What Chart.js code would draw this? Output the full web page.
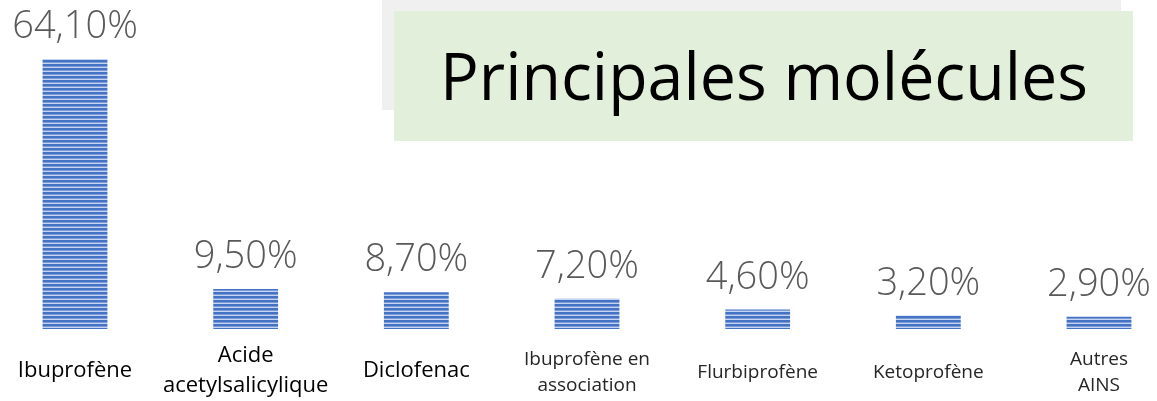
<!DOCTYPE html>
<html>
<head>
<meta charset="utf-8">
<script src="https://cdn.jsdelivr.net/npm/chart.js@4.4.1/dist/chart.umd.min.js"></script>
<style>
  html, body { margin: 0; padding: 0; background: #fff; }
  #wrap { width: 1157px; height: 401px; position: relative; }
</style>
</head>
<body>
<div id="wrap"><canvas id="chart"></canvas></div>
<script>
// Data
const categories = [
    'Ibuprofène',
    ['Acide', 'acetylsalicylique'],
    'Diclofenac',
    ['Ibuprofène en', 'association'],
    'Flurbiprofène',
    'Ketoprofène',
    ['Autres', 'AINS']
];
const shares = [64.1, 9.5, 8.7, 7.2, 4.6, 3.2, 2.9];
const valueLabels = ['64,10%', '9,50%', '8,70%', '7,20%', '4,60%', '3,20%', '2,90%'];
const titleText = 'Principales molécules';

// striped fill for the bars
const makeStripes = () => {
    const c = document.createElement('canvas');
    c.width = 4;
    c.height = 4;
    const g = c.getContext('2d');
    g.fillStyle = '#4472C4';
    g.fillRect(0, 0, 4, 2);
    g.fillStyle = '#7C9AD6';
    g.fillRect(0, 2, 4, 1);
    g.fillStyle = '#C5D4F0';
    g.fillRect(0, 3, 4, 1);
    return g.createPattern(c, 'repeat');
};

// Title box behind the chart
const titleBoxPlugin = {
    id: 'titleBox',
    beforeDraw: (chart) => {
        const ctx = chart.ctx;
        ctx.save();
        ctx.fillStyle = '#F0F0F0';
        ctx.fillRect(382, 0, 739, 110);
        ctx.fillStyle = '#E2EFDA';
        ctx.fillRect(394, 11, 739, 130);
        ctx.fillStyle = '#000';
        ctx.font = '400 66px "Open Sans", "Noto Sans", sans-serif';
        ctx.textAlign = 'center';
        ctx.textBaseline = 'alphabetic';
        ctx.fillText(titleText, 764, 100, 648);
        ctx.restore();
    }
};

// value labels above each bar
const valueLabelPlugin = {
    id: 'valueLabels',
    afterDatasetsDraw: (chart) => {
        const ctx = chart.ctx;
        const meta = chart.getDatasetMeta(0);
        ctx.save();
        ctx.fillStyle = '#595959';
        ctx.font = '300 38px "Open Sans", "Noto Sans", sans-serif';
        ctx.textAlign = 'center';
        ctx.textBaseline = 'alphabetic';
        meta.data.forEach((bar, i) => {
            ctx.fillText(valueLabels[i], bar.x, bar.y - 21);
        });
        ctx.restore();
    }
};

const ctx = document.getElementById('chart').getContext('2d');

new Chart(ctx, {
    type: 'bar',
    data: {
        labels: categories,
        datasets: [{
            data: shares,
            backgroundColor: makeStripes(),
            borderWidth: 0,
            categoryPercentage: 1,
            barPercentage: 0.38,
            clip: false
        }]
    },
    options: {
        responsive: true,
        maintainAspectRatio: false,
        animation: false,
        layout: {
            padding: { top: 10, left: 75, right: 58, bottom: 3 }
        },
        plugins: {
            legend: { display: false },
            tooltip: { enabled: false }
        },
        scales: {
            x: {
                offset: false,
                grid: { display: false, drawTicks: false },
                border: { display: false },
                afterFit: (scale) => {
                    // keep the plot edges fixed, labels may overhang
                    scale.height = 69;
                    scale.paddingLeft = 0;
                    scale.paddingRight = 0;
                },
                ticks: {
                    autoSkip: false,
                    maxRotation: 0,
                    padding: 27,
                    crossAlign: 'center',
                    color: (c) => c.index < 3 ? '#000000' : '#262626',
                    font: (c) => c.index < 3
                        ? { family: '"Open Sans", sans-serif', size: 22, lineHeight: 1.36 }
                        : { family: '"Open Sans", sans-serif', size: 19, weight: 400, lineHeight: 1.4 }
                }
            },
            y: {
                display: false,
                min: 0,
                max: 75.7
            }
        }
    },
    plugins: [titleBoxPlugin, valueLabelPlugin]
});
</script>
</body>
</html>
